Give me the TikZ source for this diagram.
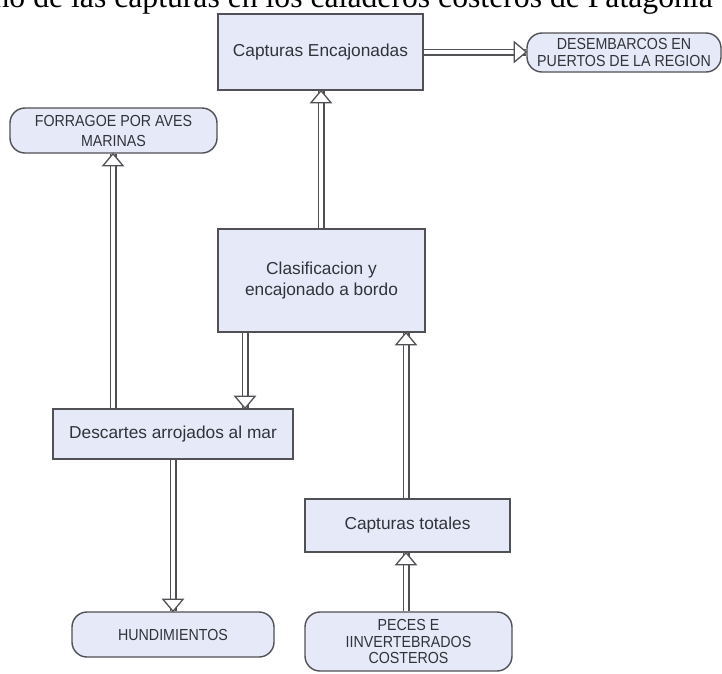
\documentclass[tikz,border=0pt]{standalone}
\usepackage{fontspec}
\setmainfont{Liberation Serif}
\newfontfamily\labfont{Liberation Sans}
\newfontfamily\capfont[FakeStretch=0.89]{Liberation Sans}
\usetikzlibrary{decorations.markings}
\pgfdeclarelayer{bg}
\pgfsetlayers{bg,main}
\definecolor{boxfill}{RGB}{230,234,248}
\definecolor{boxline}{RGB}{80,80,85}
\definecolor{txt}{RGB}{50,50,58}
\begin{document}
\begin{tikzpicture}[x=1pt,y=-1pt,
  box/.style={draw=boxline, fill=boxfill, line width=1.4pt, text=txt,
    font=\labfont\fontsize{17.3}{21}\selectfont, align=center, inner sep=0pt},
  pill/.style={box, rounded corners=15pt, font=\capfont\fontsize{16}{16.5}\selectfont},
  dbl/.style={draw=white, line width=4pt,
    preaction={draw=boxline, line width=7pt},
    postaction={decorate},
    decoration={markings, mark=at position 1 with {
      \draw[boxline, fill=white, line width=1.3pt, line join=miter]
        (0,0) -- (-12pt,-10pt) -- (-12pt,10pt) -- cycle;}}},
]
\useasboundingbox (0,0) rectangle (722,673);
\clip (0,0) rectangle (722,673);
\node[anchor=base east, font=\fontsize{31.7}{36}\selectfont, inner sep=0pt] (title) at (713,7.5)
  {Destino de las capturas en los caladeros costeros de Patagonia};

\node[box, minimum width=205pt, minimum height=76pt] (CE) at (320.5,52) {Capturas Encajonadas};
\node[pill, minimum width=194pt, minimum height=39pt] (DES) at (624,52.5) {DESEMBARCOS EN\\PUERTOS DE LA REGION};
\node[pill, minimum width=207pt, minimum height=45pt, font=\capfont\fontsize{16}{20}\selectfont] (FOR) at (113.5,130.5) {FORRAGOE POR AVES\\MARINAS};
\node[box, minimum width=207pt, minimum height=103pt] (CLA) at (321.5,280.5) {Clasificacion y\\encajonado a bordo};
\node[box, minimum width=240pt, minimum height=50pt] (DESC) at (173,434) {Descartes arrojados al mar};
\node[box, minimum width=205pt, minimum height=53pt] (CT) at (407.5,525.5) {Capturas totales};
\node[pill, minimum width=202pt, minimum height=45pt] (HUN) at (173,634.5) {HUNDIMIENTOS};
\node[pill, minimum width=207pt, minimum height=59pt] (PEC) at (408.5,641.5) {PECES E\\IINVERTEBRADOS\\COSTEROS};

\begin{pgfonlayer}{bg}
\fill[white] (0,0) rectangle (722,673);
\draw[dbl] (CE.east |- 0,52) -- (DES.west |- 0,52);
\draw[dbl] (CLA.north -| 321,0) -- (CE.south -| 321,0);
\draw[dbl] (CLA.south -| 245,0) -- (DESC.north -| 245,0);
\draw[dbl] (CT.north -| 406,0) -- (CLA.south -| 406,0);
\draw[dbl] (DESC.north -| 113,0) -- (FOR.south -| 113,0);
\draw[dbl] (DESC.south -| 173,0) -- (HUN.north -| 173,0);
\draw[dbl] (PEC.north -| 406,0) -- (CT.south -| 406,0);
\end{pgfonlayer}
\end{tikzpicture}
\end{document}
